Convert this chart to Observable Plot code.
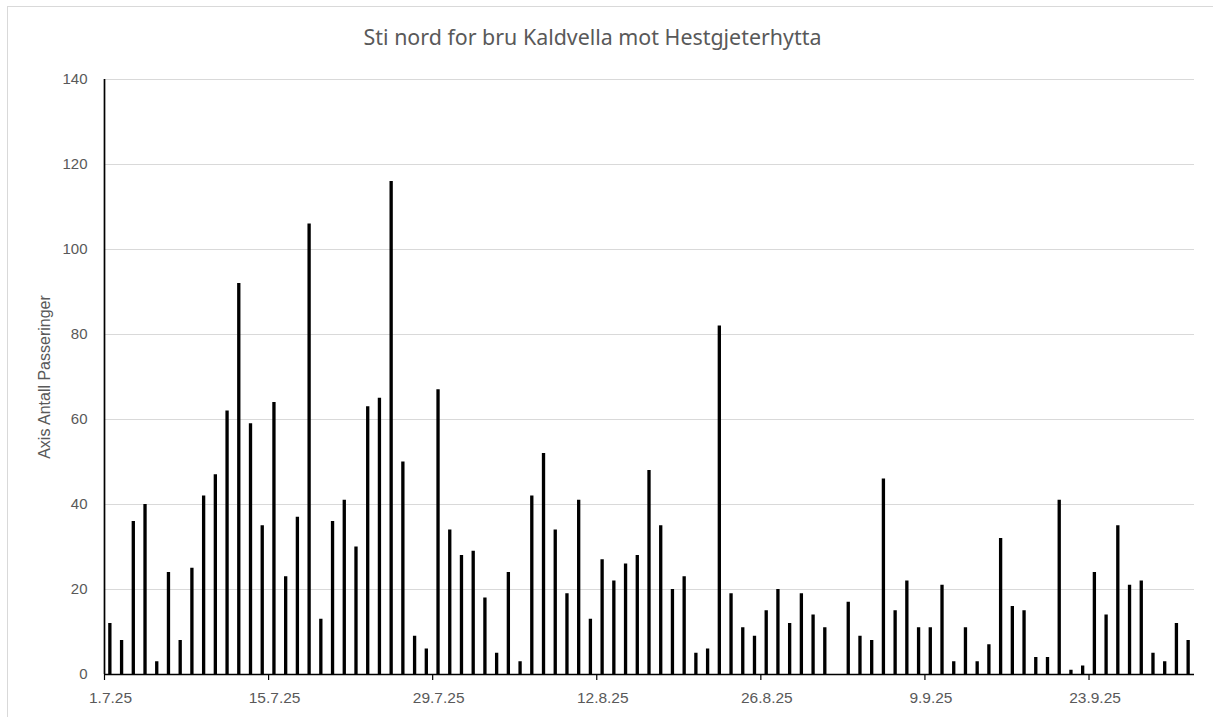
<!DOCTYPE html>
<html>
<head>
<meta charset="utf-8">
<script src="https://cdn.jsdelivr.net/npm/d3@7"></script>
<script src="https://cdn.jsdelivr.net/npm/@observablehq/plot@0.6"></script>
<style>
  html, body { margin: 0; padding: 0; background: #fff; }
  #wrap { position: relative; width: 1213px; height: 717px; overflow: hidden; }
  #frame { position: absolute; left: 7px; top: 6px; width: 1400px; height: 900px;
           border-left: 1px solid #d9d9d9; border-top: 1px solid #d9d9d9; box-sizing: border-box; pointer-events: none; }
  #title { position: relative; height: 60px; width: 1185px; text-align: center;
           font-family: "Noto Sans", "Open Sans", sans-serif; font-size: 21.4px; color: #595959;
           line-height: 24px; padding-top: 25px; box-sizing: border-box; white-space: nowrap; }
  #chart svg { display: block; }
</style>
</head>
<body>
<div id="wrap">
  <div id="title">Sti nord for bru Kaldvella mot Hestgjeterhytta</div>
  <div id="chart"></div>
  <div id="frame"></div>
</div>
<script>
// ---- data ----
const startDate = "2025-07-01";
const counts = [
  12, 8, 36, 40, 3, 24, 8, 25, 42, 47,
  62, 92, 59, 35, 64, 23, 37, 106, 13, 36,
  41, 30, 63, 65, 116, 50, 9, 6, 67, 34,
  28, 29, 18, 5, 24, 3, 42, 52, 34, 19,
  41, 13, 27, 22, 26, 28, 48, 35, 20, 23,
  5, 6, 82, 19, 11, 9, 15, 20, 12, 19,
  14, 11, 0, 17, 9, 8, 46, 15, 22, 11,
  11, 21, 3, 11, 3, 7, 32, 16, 15, 4,
  4, 41, 1, 2, 24, 14, 35, 21, 22, 5,
  3, 12, 8
];
const xTickDates = ["2025-07-01", "2025-07-15", "2025-07-29", "2025-08-12", "2025-08-26", "2025-09-09", "2025-09-23"];
const yTicks = [0, 20, 40, 60, 80, 100, 120, 140];
const titleText = "Sti nord for bru Kaldvella mot Hestgjeterhytta";
const yLabel = "Axis Antall Passeringer";

// ---- derived table ----
const start = new Date(startDate + "T00:00:00Z");
const rows = counts.map((v, i) => {
  const d = d3.utcDay.offset(start, i);
  return { date: d, end: d3.utcDay.offset(d, 1), value: v };
});
const xTicks = xTickDates.map(s => new Date(s + "T00:00:00Z"));
const xDomain = [start, d3.utcDay.offset(start, counts.length)];
const fmt = d3.utcFormat("%-d.%-m.%y");

document.getElementById("title").textContent = titleText;

const chart = Plot.plot({
  width: 1213,
  height: 657,
  marginLeft: 104,
  marginRight: 19,
  marginTop: 19,
  marginBottom: 43,
  style: { fontFamily: "'Liberation Sans', Arial, sans-serif", fontSize: "15px", color: "#595959", background: "transparent" },
  x: { type: "utc", domain: xDomain },
  y: { domain: [0, 140] },
  marks: [
    Plot.gridY(yTicks, { stroke: "#d9d9d9", strokeOpacity: 1, strokeWidth: 1 }),
    Plot.rectY(rows, { x1: "date", x2: "end", y: "value", fill: "black", insetLeft: 4.2, insetRight: 4.2 }),
    Plot.ruleY([0], { stroke: "black", strokeWidth: 1.5 }),
    Plot.ruleX([start], { stroke: "black", strokeWidth: 1.7 }),
    Plot.axisY(yTicks, { tickSize: 0, tickPadding: 17, label: null, fill: "#595959", fontSize: 15 }),
    Plot.axisX(xTicks, { tickSize: 6, tickFormat: () => "", stroke: "black", strokeWidth: 1.2, label: null }),
    Plot.axisX(xTicks, { tickSize: 0, tickPadding: 17, dx: 6, tickFormat: fmt, label: null, fill: "#595959", fontSize: 15.5 }),
    Plot.text([yLabel], { text: d => d, frameAnchor: "left", textAnchor: "middle", rotate: -90, dx: -60, fill: "#595959", fontSize: 16 })
  ]
});
document.getElementById("chart").appendChild(chart);
</script>
</body>
</html>
